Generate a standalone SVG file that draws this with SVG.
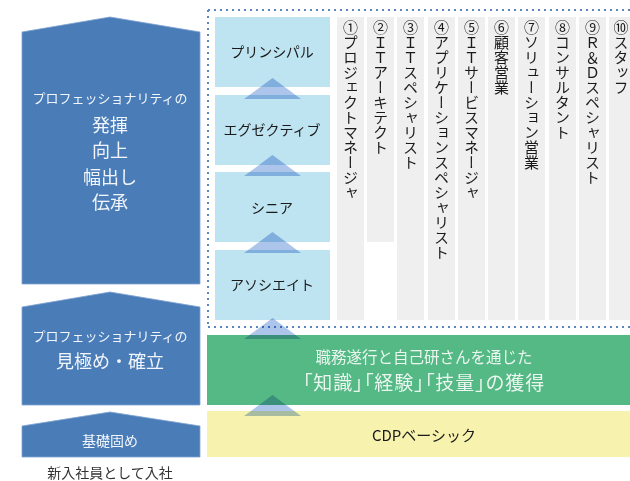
<svg xmlns="http://www.w3.org/2000/svg" width="630" height="481" viewBox="0 0 630 481">
<style>
text{font-family:"Noto Sans CJK JP","Noto Sans CJK SC",sans-serif}
.arrow{fill:#4A7DB8;stroke:#7FA2D0;stroke-width:0.8}
.wt{fill:#F2F6FB;text-anchor:middle}
.lvl{fill:#BEE3F1}
.lt{fill:#1a1a1a;font-size:14px;text-anchor:middle}
.col{fill:#EFEFEF}
.vt{fill:#1a1a1a;font-size:15px;writing-mode:vertical-rl;text-orientation:upright}
.tri{fill:#ADC5EA;mix-blend-mode:multiply}
.dot{stroke:#5B86C0;stroke-width:2;stroke-dasharray:2 4;fill:none}
</style>
<rect width="630" height="481" fill="#fff"/>

<g id="stage-top">
<polygon class="arrow" points="22,32 110,17 200,32 200,284 22,284"/>
<text class="wt" x="110" y="103" font-size="13">プロフェッショナリティの</text>
<text class="wt" x="110" y="132" font-size="18">発揮</text>
<text class="wt" x="110" y="157" font-size="18">向上</text>
<text class="wt" x="110" y="184" font-size="18">幅出し</text>
<text class="wt" x="110" y="209" font-size="18">伝承</text>
</g>
<g id="stage-mid">
<polygon class="arrow" points="22,307 110,292 200,307 200,405 22,405"/>
<text class="wt" x="110" y="341" font-size="13">プロフェッショナリティの</text>
<text class="wt" x="110" y="368" font-size="18">見極め・確立</text>
</g>
<g id="stage-base">
<polygon class="arrow" points="22,426 110,412 200,426 200,457 22,457"/>
<text class="wt" x="110" y="446" font-size="14">基礎固め</text>
</g>
<text x="110" y="478" font-size="14" fill="#333" text-anchor="middle">新入社員として入社</text>

<g id="frame">
<line class="dot" x1="208" y1="10" x2="630" y2="10"/>
<line class="dot" x1="208" y1="10" x2="208" y2="327"/>
<line class="dot" x1="208" y1="327" x2="630" y2="327"/>
</g>

<g id="level-principal"><rect class="lvl" x="215" y="17" width="115" height="70"/><text class="lt" x="272" y="57">プリンシパル</text></g>
<g id="level-executive"><rect class="lvl" x="215" y="95" width="115" height="70"/><text class="lt" x="272" y="135">エグゼクティブ</text></g>
<g id="level-senior"><rect class="lvl" x="215" y="172" width="115" height="70"/><text class="lt" x="272" y="213">シニア</text></g>
<g id="level-associate"><rect class="lvl" x="215" y="250" width="115" height="70"/><text class="lt" x="272" y="290">アソシエイト</text></g>

<g id="col1"><rect class="col" x="337" y="17" width="27" height="303"/><text class="vt" x="350.5" y="20">①プロジェクトマネージャ</text></g>
<g id="col2"><rect class="col" x="367" y="17" width="27" height="225"/><text class="vt" x="380.5" y="20">②ＩＴアーキテクト</text></g>
<g id="col3"><rect class="col" x="397" y="17" width="27" height="303"/><text class="vt" x="410.5" y="20">③ＩＴスペシャリスト</text></g>
<g id="col4"><rect class="col" x="428" y="17" width="27" height="303"/><text class="vt" x="441.5" y="20">④アプリケーションスペシャリスト</text></g>
<g id="col5"><rect class="col" x="458" y="17" width="27" height="303"/><text class="vt" x="471.5" y="20">⑤ＩＴサービスマネージャ</text></g>
<g id="col6"><rect class="col" x="488" y="17" width="27" height="303"/><text class="vt" x="501.5" y="20">⑥顧客営業</text></g>
<g id="col7"><rect class="col" x="518" y="17" width="27" height="303"/><text class="vt" x="531.5" y="20">⑦ソリューション営業</text></g>
<g id="col8"><rect class="col" x="549" y="17" width="27" height="303"/><text class="vt" x="562.5" y="20">⑧コンサルタント</text></g>
<g id="col9"><rect class="col" x="579" y="17" width="27" height="303"/><text class="vt" x="592.5" y="20">⑨Ｒ＆Ｄスペシャリスト</text></g>
<g id="col10"><rect class="col" x="609" y="17" width="27" height="303"/><text class="vt" x="621" y="20" font-size="14.5">⑩スタッフ</text></g>

<g id="knowledge">
<rect x="207" y="335" width="430" height="70" fill="#55B985"/>
<text x="424" y="362.5" font-size="15.5" fill="#EAF6EF" text-anchor="middle">職務遂行と自己研さんを通じた</text>
<text x="424" y="390" font-size="19" fill="#EAF6EF" text-anchor="middle" letter-spacing="1" style="font-feature-settings:'palt'">「知識」「経験」「技量」の獲得</text>
</g>
<g id="cdp-basic">
<rect x="207" y="411" width="430" height="46" fill="#F7F3AF"/>
<text x="424" y="440.5" font-size="15" fill="#1a1a1a" text-anchor="middle">CDPベーシック</text>
</g>

<g id="connectors">
<polygon class="tri" points="272.5,78 244,99 301,99"/>
<polygon class="tri" points="272.5,155 244,176 301,176"/>
<polygon class="tri" points="272.5,232 244,253 301,253"/>
<polygon class="tri" points="272.5,318 244,339 301,339"/>
<polygon class="tri" points="272.5,395 244,416 301,416"/>
</g>
</svg>
